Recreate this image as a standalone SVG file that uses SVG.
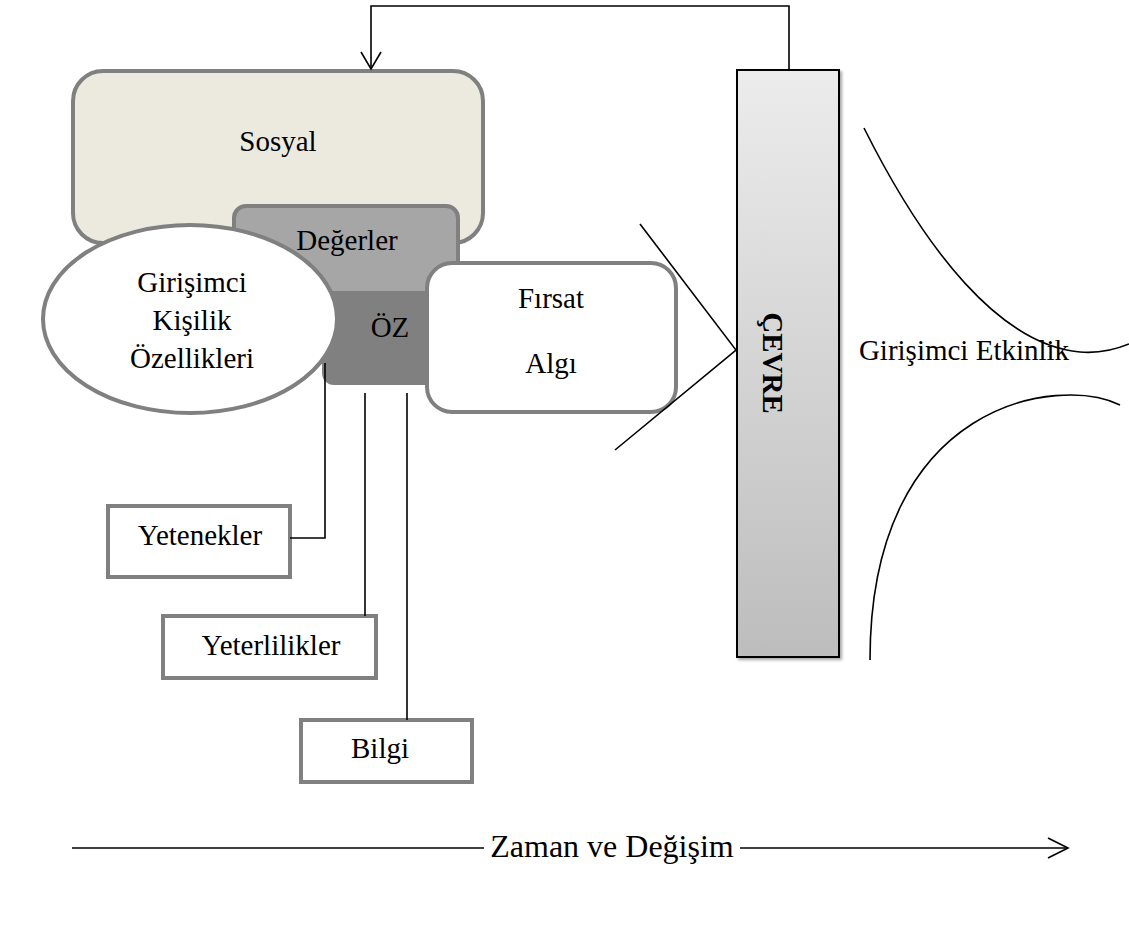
<svg xmlns="http://www.w3.org/2000/svg" width="1129" height="927" viewBox="0 0 1129 927">
<style>
.t{font-family:"Liberation Serif","Times New Roman",serif;font-size:29px;fill:#000;text-anchor:middle}
.big{font-size:32px}
.g{stroke:#808080;stroke-width:4}
.ln{stroke:#000;stroke-width:1.6;fill:none}
</style>
<defs>
<linearGradient id="cg" x1="0" y1="0" x2="0" y2="1">
<stop offset="0" stop-color="#ECECEC"/>
<stop offset="1" stop-color="#BDBDBD"/>
</linearGradient>
<filter id="sh" x="-20%" y="-5%" width="140%" height="110%">
<feDropShadow dx="2" dy="2" stdDeviation="1.5" flood-color="#000" flood-opacity="0.35"/>
</filter>
</defs>
<rect width="1129" height="927" fill="#fff"/>

<g id="sosyal">
<rect x="73" y="71" width="410" height="172" rx="30" fill="#ECEADF" class="g"/>
<text class="t" x="278" y="151">Sosyal</text>
</g>
<g id="degerler">
<rect x="234" y="206" width="224" height="100" rx="12" fill="#A6A6A6" class="g"/>
<text class="t" x="347" y="250">Değerler</text>
</g>
<g id="oz">
<rect x="322" y="291" width="138" height="94" rx="12" fill="#808080"/>
<text class="t" x="390" y="337">ÖZ</text>
</g>
<g id="kisilik">
<ellipse cx="190" cy="319" rx="147" ry="94" fill="#fff" class="g"/>
<text class="t" x="192" y="292">Girişimci</text>
<text class="t" x="192" y="330">Kişilik</text>
<text class="t" x="192" y="368">Özellikleri</text>
</g>
<g id="firsat">
<rect x="427" y="263" width="249" height="149" rx="25" fill="#fff" class="g"/>
<text class="t" x="551" y="308">Fırsat</text>
<text class="t" x="551" y="373">Algı</text>
</g>
<g id="cevre">
<rect x="737" y="70" width="102" height="587" fill="url(#cg)" stroke="#000" stroke-width="2" filter="url(#sh)"/>
<text class="t" font-weight="bold" transform="translate(763,363) rotate(90)">ÇEVRE</text>
</g>
<g id="yetenekler">
<rect x="108" y="506" width="182" height="71" fill="#fff" class="g"/>
<text class="t" x="200" y="545">Yetenekler</text>
</g>
<g id="yeterlilikler">
<rect x="163" y="616" width="213" height="62" fill="#fff" class="g"/>
<text class="t" x="271" y="655">Yeterlilikler</text>
</g>
<g id="bilgi">
<rect x="301" y="720" width="171" height="62" fill="#fff" class="g"/>
<text class="t" x="380" y="758">Bilgi</text>
</g>
<g id="etkinlik">
<text class="t" x="964" y="360">Girişimci Etkinlik</text>
</g>

<g id="connectors">
<path class="ln" d="M789,70 V6 H371 V69"/>
<polyline class="ln" points="361,52 371,69 381,52"/>
<path class="ln" d="M290,538 H325 V363"/>
<path class="ln" d="M365,393 V616"/>
<path class="ln" d="M407,393 V720"/>
<path class="ln" d="M640,224 L736,350 L615,450"/>
<path class="ln" d="M864,128 C925,250 1000,345 1080,352 Q1105,354 1129,344"/>
<path class="ln" d="M1120,405 C1060,375 870,400 870,660"/>
<path class="ln" d="M72,848 H484 M740,848 H1067"/>
<polyline class="ln" points="1048,838 1068,848 1048,858"/>
</g>
<g id="timeline-label">
<text class="t big" x="612" y="857">Zaman ve Değişim</text>
</g>
</svg>
